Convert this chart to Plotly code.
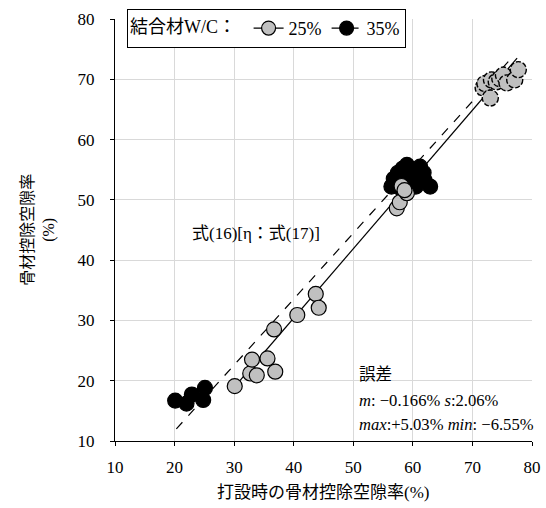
import plotly.graph_objects as go

# 25% series (gray markers, solid outline)
x25 = [30.1, 32.7, 33.0, 33.8, 35.6, 36.9, 36.7, 40.6, 43.7, 44.2,
       57.3, 57.8, 58.1, 59.0, 58.6]
y25 = [19.1, 21.2, 23.5, 20.9, 23.7, 21.5, 28.5, 30.9, 34.4, 32.1,
       48.6, 49.6, 52.3, 51.1, 51.6]
# 25% series, upper group (gray markers, dashed outline)
x25_top = [71.8, 72.1, 73.0, 73.2, 74.0, 74.6, 75.2, 75.8, 77.1, 77.7]
y25_top = [68.6, 69.3, 66.9, 69.9, 69.6, 70.1, 70.7, 69.4, 69.9, 71.6]
# 35% series (black markers)
x35 = [20.1, 22.0, 22.9, 24.8, 25.1,
       56.4, 56.8, 57.5, 58.3, 59.0, 59.6, 60.4, 61.2, 61.8, 62.0, 62.9, 59.0, 60.5, 57.8]
y35 = [16.7, 16.2, 17.7, 16.8, 18.8,
       52.2, 53.5, 54.5, 55.2, 55.8, 54.6, 53.6, 55.5, 54.5, 53.2, 52.2, 53.0, 52.2, 52.0]
# calculation lines (式(16))
line25_x = [30.0, 77.5]
line25_y = [18.9, 73.5]
line35_x = [20.3, 77.0]
line35_y = [12.0, 74.0]

series_names = ["25%", "35%"]
legend_title = "結合材W/C： "
x_title = "打設時の骨材控除空隙率(%)"
y_title = "骨材控除空隙率<br>(%)"
formula_text = "式(16)[η：式(17)]"
err_lines = ["誤差",
             "<i>m</i>: −0.166% <i>s</i>:2.06%",
             "<i>max</i>:+5.03% <i>min</i>: −6.55%"]

FONT = "Liberation Serif, Noto Sans CJK JP, serif"
GRAY = "#c0c0c0"
MSIZE = 15

fig = go.Figure()
fig.add_trace(go.Scatter(x=line25_x, y=line25_y, mode="lines",
                         line=dict(color="black", width=1.2), showlegend=False))
fig.add_trace(go.Scatter(x=line35_x, y=line35_y, mode="lines",
                         line=dict(color="black", width=1.2, dash="dash"), showlegend=False))
fig.add_trace(go.Scatter(x=x35, y=y35, mode="markers",
                         marker=dict(size=MSIZE, color="black", line=dict(color="black", width=1.2)),
                         showlegend=False))
fig.add_trace(go.Scatter(x=x25, y=y25, mode="markers",
                         marker=dict(size=MSIZE, color=GRAY, line=dict(color="black", width=1.2)),
                         showlegend=False))
# legend entries
fig.add_trace(go.Scatter(x=[None], y=[None], mode="lines+markers", name=series_names[0],
                         line=dict(color="black", width=1.2),
                         marker=dict(size=14, color=GRAY, line=dict(color="black", width=1.2))))
fig.add_trace(go.Scatter(x=[None], y=[None], mode="lines+markers", name=series_names[1],
                         line=dict(color="black", width=1.2, dash="dash"),
                         marker=dict(size=14, color="black", line=dict(color="black", width=1.2))))

# upper 25% group: circles with dashed outline, anchored at data coordinates
r = MSIZE / 2 + 0.5
for xv, yv in zip(x25_top, y25_top):
    fig.add_shape(type="circle", xref="x", yref="y",
                  xsizemode="pixel", ysizemode="pixel", xanchor=xv, yanchor=yv,
                  x0=-r, x1=r, y0=-r, y1=r,
                  fillcolor=GRAY, line=dict(color="black", width=1.4, dash="5px,2px"),
                  layer="above")

axis_common = dict(showgrid=True, gridcolor="#d9d9d9", gridwidth=1,
                   showline=True, linecolor="black", linewidth=1.2,
                   ticks="outside", ticklen=4, tickcolor="black", automargin=False,
                   zeroline=False, tickfont=dict(family=FONT, size=17, color="black"))

fig.update_xaxes(range=[10, 80], dtick=10, tick0=10, ticklabelstandoff=6, **axis_common)
fig.update_yaxes(range=[10, 80], dtick=10, tick0=10, ticklabelstandoff=12, **axis_common)

annotations = [
    dict(x=33.7, y=44.5, xref="x", yref="y", text=formula_text, showarrow=False,
         font=dict(family=FONT, size=17, color="black")),
    dict(x=50.6, y=21.1, xref="x", yref="y", text=err_lines[0], showarrow=False,
         xanchor="left", font=dict(family=FONT, size=16.6, color="black")),
    dict(x=50.6, y=16.8, xref="x", yref="y", text=err_lines[1], showarrow=False,
         xanchor="left", font=dict(family=FONT, size=16.6, color="black")),
    dict(x=50.6, y=12.8, xref="x", yref="y", text=err_lines[2], showarrow=False,
         xanchor="left", font=dict(family=FONT, size=16.6, color="black")),
    dict(x=0.499, y=-0.123, xref="paper", yref="paper", text=x_title, showarrow=False,
         xanchor="center", yanchor="middle",
         font=dict(family=FONT, size=17, color="black")),
    dict(x=-0.185, y=0.5, xref="paper", yref="paper", text=y_title, showarrow=False,
         xanchor="center", yanchor="middle",
         textangle=-90, font=dict(family=FONT, size=16, color="black")),
]

fig.update_layout(
    template="none",
    width=546, height=508,
    margin=dict(l=115, r=14, t=19, b=67, autoexpand=False),
    paper_bgcolor="white", plot_bgcolor="white",
    font=dict(family=FONT, size=17, color="black"),
    annotations=annotations,
    legend=dict(orientation="h", x=0.029, y=1.024, xanchor="left", yanchor="top",
                bgcolor="white", bordercolor="black", borderwidth=1,
                title=dict(text=legend_title, font=dict(family=FONT, size=18)),
                font=dict(family=FONT, size=18), itemwidth=30, tracegroupgap=0),
)

fig.write_html("out.html", config={"displayModeBar": False},
               post_script="document.body.style.margin='0';document.body.style.padding='0';")
